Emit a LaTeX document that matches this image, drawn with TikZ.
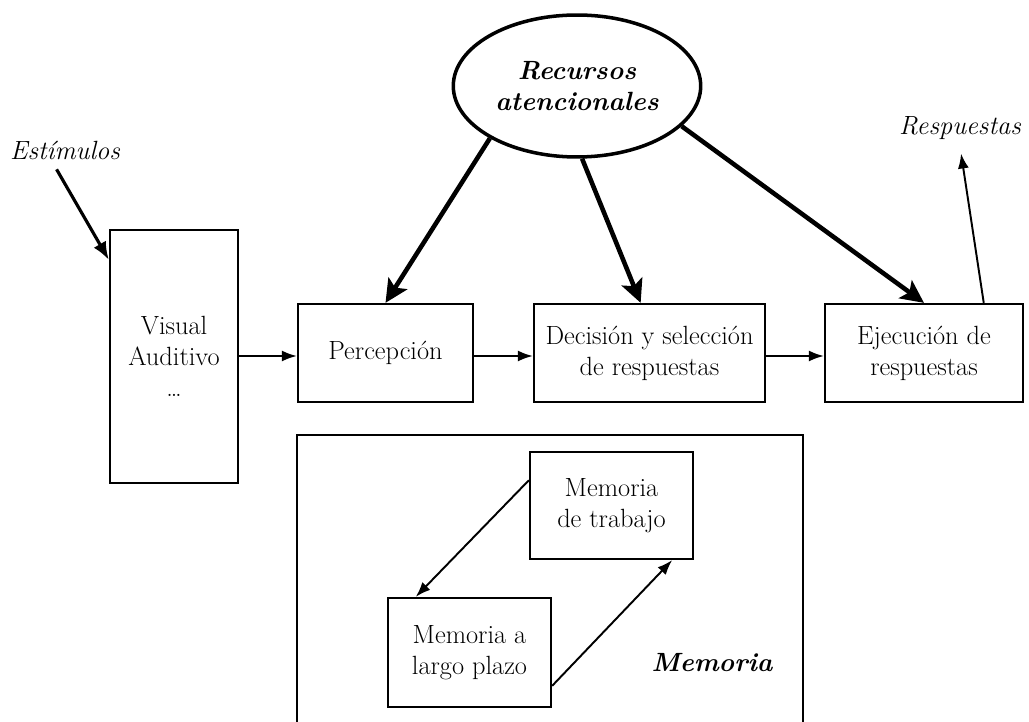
\documentclass[tikz,border=0pt]{standalone}
\usepackage{tikz}
\usetikzlibrary{arrows.meta,shapes.geometric}

\begin{document}
\begin{tikzpicture}[x=0.02cm,y=-0.02cm,line width=1.3pt,
  font=\fontsize{15}{17.6}\selectfont]
\tikzstyle{caja}=[draw,rectangle,align=center,inner sep=0pt] %%
\tikzstyle{flecha}=[-{Latex[length=0.3cm,width=0.22cm]},line width=1.1pt] %%
\tikzstyle{gruesa}=[-{Stealth[length=0.46cm,width=0.44cm,inset=0.1cm]},line width=2.6pt] %%
\useasboundingbox (0,0) rectangle (1029,722);
% recursos
\node[draw,ellipse,line width=2pt,minimum width=4.84cm,minimum height=2.84cm,
  align=center,font=\fontsize{15}{17.6}\selectfont\bfseries\itshape] (rec) at (577,86) {Recursos\\atencionales};
% fila de procesos
\node[caja,minimum width=2.56cm,minimum height=5.06cm] (vis) at (174,356.5) {Visual\\Auditivo\\\dots};
\node[caja,minimum width=3.5cm,minimum height=1.96cm] (per) at (385.5,353) {Percepci\'on};
\node[caja,minimum width=4.62cm,minimum height=1.96cm] (dec) at (649.5,353) {Decisi\'on y selecci\'on\\de respuestas};
\node[caja,minimum width=3.96cm,minimum height=1.96cm] (eje) at (924,353) {Ejecuci\'on de\\respuestas};
\node[font=\fontsize{15}{17.6}\selectfont\itshape] (est) at (65,150) {Est\'imulos};
\node[font=\fontsize{15}{17.6}\selectfont\itshape] (res) at (960,128) {Respuestas};
% memoria
\draw (297,730) -- (297,435) -- (803,435) -- (803,730);
\node[caja,minimum width=3.26cm,minimum height=2.14cm] (mt) at (611.5,505.5) {Memoria\\de trabajo};
\node[caja,minimum width=3.26cm,minimum height=2.18cm] (mlp) at (469.5,652.5) {Memoria a\\largo plazo};
\node[font=\fontsize{15}{17.6}\selectfont\bfseries\itshape] (mem) at (712,663) {Memoria};
%%
\draw[flecha] (vis.east |- 0,356) -- (per.west |- 0,356);
\draw[flecha] (per.east |- 0,356) -- (dec.west |- 0,356);
\draw[flecha] (dec.east |- 0,356) -- (eje.west |- 0,356);
\draw[-{Latex[length=0.36cm,width=0.28cm]},line width=1.8pt,shorten <=2pt] (est.238) -- (vis.124);
\draw[flecha,shorten >=4pt] (eje.40) -- (res.south);
\draw[gruesa] (rec.211) -- (per.north);
\draw[gruesa] (rec.274) -- (dec.100);
\draw[gruesa] (rec.339) -- (eje.north);
\draw[flecha] (mt.163) -- (mlp.134);
\draw[flecha] (mlp.338) -- (mt.318);
\end{tikzpicture}
\end{document}
